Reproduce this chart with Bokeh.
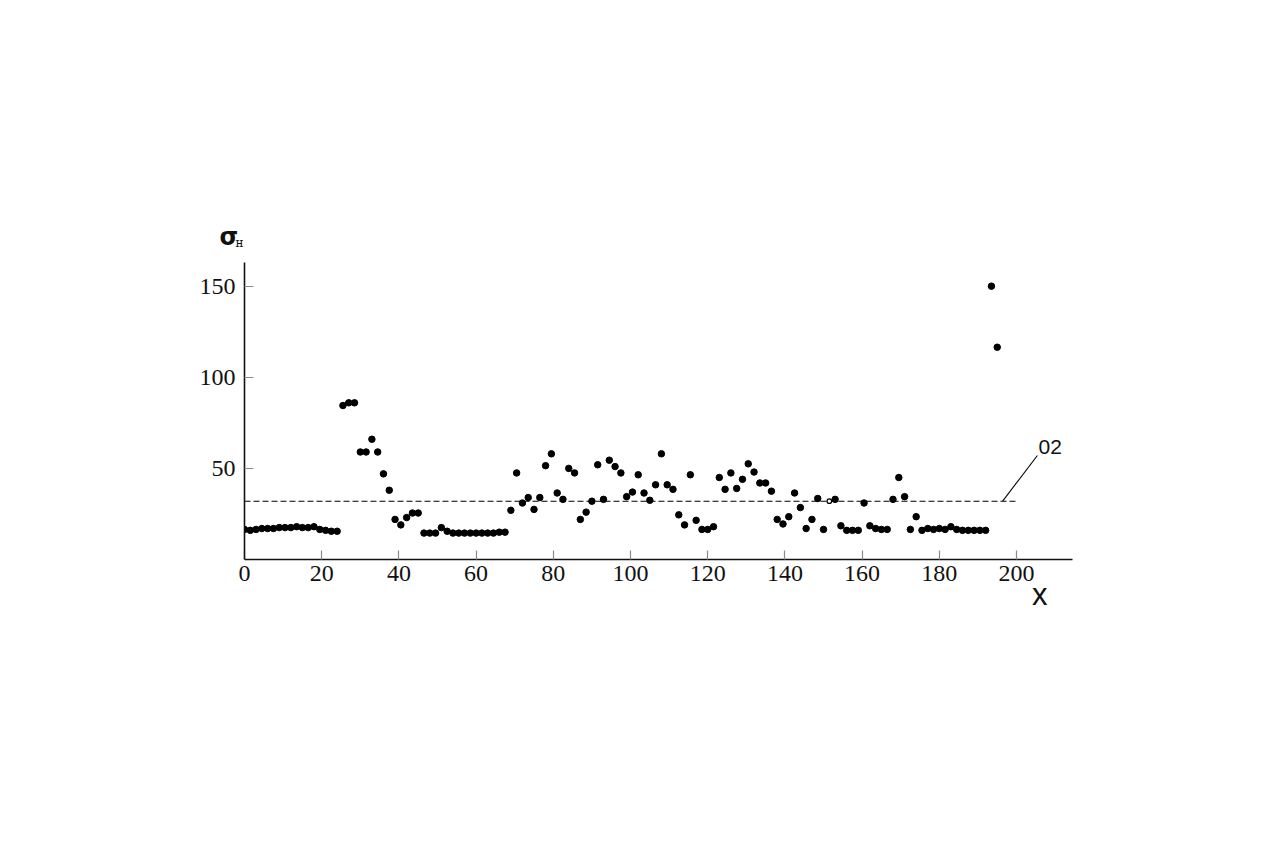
from bokeh.plotting import figure
from bokeh.models import Range1d, FixedTicker, Label, Title
from bokeh.embed import file_html
from bokeh.resources import INLINE

# ---------------- data ----------------
step = 1.5
y_vals = [
    16.5, 16, 16.5, 17, 17, 17, 17.5, 17.5, 17.5, 18, 17.5, 17.5, 18, 16.5, 16, 15.5, 15.5,
    84.5, 86, 86,
    59, 59, 66, 59, 47, 38,
    22, 19, 23, 25.5, 25.5,
    14.5, 14.5, 14.5, 17.5, 15.5,
    14.5, 14.5, 14.5, 14.5, 14.5, 14.5, 14.5, 14.5, 15, 15,
    27, 47.5, 31, 34, 27.5, 34, 51.5, 58, 36.5, 33,
    50, 47.5, 22, 26, 32, 52, 33, 54.5, 51, 47.5,
    34.5, 37, 46.5, 36.5, 32.5, 41, 58, 41, 38.5, 24.5,
    19, 46.5, 21.5, 16.5, 16.5, 18, 45, 38.5, 47.5, 39,
    44, 52.5, 48, 42, 42, 37.5, 22, 19.5, 23.5, 36.5,
    28.5, 17, 22, 33.5, 16.5, 32, 33, 18.5, 16, 16,
    16, 31, 18.5, 17, 16.5, 16.5, 33, 45, 34.5, 16.5,
    23.5, 16, 17, 16.5, 17, 16.5, 18, 16.5, 16, 16,
    16, 16, 16, 150, 116.5,
]
x_vals = [i * step for i in range(len(y_vals))]
open_points = [101]          # index of the one hollow marker
threshold = 32               # dashed level
threshold_end = 200
x_ticks = [0, 20, 40, 60, 80, 100, 120, 140, 160, 180, 200]
y_ticks = [50, 100, 150]
annot_text = "02"

# ---------------- figure ----------------
p = figure(width=1260, height=830, output_backend="svg", toolbar_location=None,
           x_range=Range1d(0, 214.5), y_range=Range1d(0, 163))
p.min_border_left = 244
p.min_border_top = 262
p.min_border_right = 188
p.min_border_bottom = 271
p.outline_line_color = None
p.xgrid.visible = False
p.ygrid.visible = False
p.background_fill_color = "white"
p.border_fill_color = "white"

for ax in (p.xaxis[0], p.yaxis[0]):
    ax.axis_line_color = "#111111"
    ax.axis_line_width = 1.6
    ax.major_tick_in = 9
    ax.major_tick_out = 0
    ax.major_tick_line_color = "#8a8a8a"
    ax.major_tick_line_width = 1.2
    ax.minor_tick_line_color = None
    ax.major_label_text_font = "Liberation Serif"
    ax.major_label_text_font_size = "24px"
    ax.major_label_text_color = "#111111"

p.xaxis[0].ticker = FixedTicker(ticks=x_ticks)
p.yaxis[0].ticker = FixedTicker(ticks=y_ticks)
p.xaxis[0].major_label_standoff = 6
p.yaxis[0].major_label_standoff = 9

# dashed threshold line
p.line([0, threshold_end], [threshold, threshold], line_color="black",
       line_width=1.1, line_dash="6 3")

# points
filled_x = [x for i, x in enumerate(x_vals) if i not in open_points]
filled_y = [y for i, y in enumerate(y_vals) if i not in open_points]
hollow_x = [x_vals[i] for i in open_points]
hollow_y = [y_vals[i] for i in open_points]
p.scatter(filled_x, filled_y, size=6.5, color="black", marker="circle")
p.scatter(hollow_x, hollow_y, size=4.5, fill_color="white", line_color="black",
          line_width=1.2, marker="circle")

# annotation "02" with leader line
p.line([196.4, 205.4], [threshold, 57.1], line_color="black", line_width=1.1)
p.add_layout(Label(x=205.7, y=61.5, text=annot_text, text_font="Liberation Sans",
                   text_font_size="21px", text_color="#111111",
                   text_baseline="alphabetic", text_align="left"))

# axis titles (outside the frame) as Titles
p.add_layout(Title(text="σ", align="left", offset=-25, standoff=24,
                   text_font="DejaVu Sans", text_font_style="bold",
                   text_font_size="24px", text_color="#111111"), "above")
p.add_layout(Title(text="н", align="left", offset=-9, standoff=-83,
                   text_font="DejaVu Serif", text_font_style="normal",
                   text_font_size="12px", text_color="#111111"), "above")
p.add_layout(Title(text="x", align="right", offset=25, standoff=-18,
                   text_font="Liberation Sans", text_font_size="31px",
                   text_font_style="normal", text_color="#111111"), "below")

open("out.html", "w").write(file_html(p, INLINE))
